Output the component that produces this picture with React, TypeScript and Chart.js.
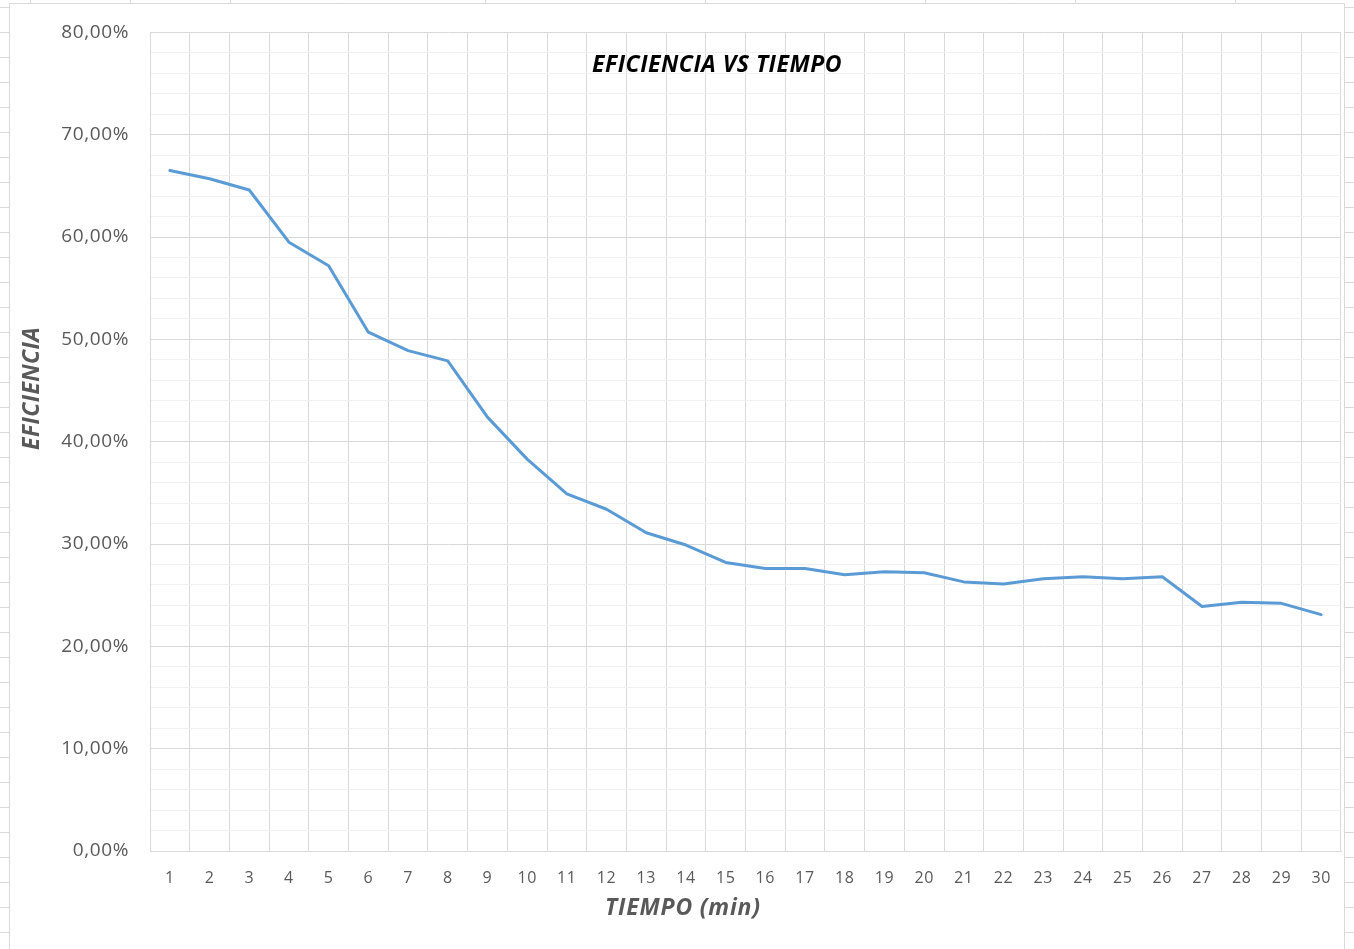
import React, { useEffect, useRef } from "react";
import { Chart, registerables } from "chart.js";

Chart.register(...registerables);

const categories: string[] = [
  "1", "2", "3", "4", "5", "6", "7", "8", "9", "10",
  "11", "12", "13", "14", "15", "16", "17", "18", "19", "20",
  "21", "22", "23", "24", "25", "26", "27", "28", "29", "30",
];

const eficiencia: number[] = [
  66.5, 65.7, 64.6, 59.5, 57.2, 50.7, 48.9, 47.9, 42.4, 38.3,
  34.9, 33.4, 31.1, 29.9, 28.2, 27.6, 27.6, 27.0, 27.3, 27.2,
  26.3, 26.1, 26.6, 26.8, 26.6, 26.8, 23.9, 24.3, 24.2, 23.1,
];

const yMin = 0;
const yMax = 80;
const yMinorStep = 2;
const yMajorStep = 10;

const chartTitle = "EFICIENCIA VS TIEMPO";
const xTitle = "TIEMPO (min)";
const yTitle = "EFICIENCIA";

const FONT = "'Open Sans', 'Liberation Sans', sans-serif";

const decorPlugin = {
  id: "decor",
  beforeDraw(chart: any) {
    const ctx = chart.ctx;
    ctx.save();
    ctx.fillStyle = "#ffffff";
    ctx.fillRect(0, 0, chart.width, chart.height);
    ctx.strokeStyle = "#d9d9d9";
    ctx.lineWidth = 1;
    // chart frame
    ctx.beginPath();
    ctx.moveTo(9.5, chart.height);
    ctx.lineTo(9.5, 3.5);
    ctx.lineTo(1344.5, 3.5);
    ctx.lineTo(1344.5, chart.height);
    ctx.stroke();
    // sheet cell lines peeking around the frame
    ctx.beginPath();
    [30, 130, 230, 485, 705, 925, 1075, 1235].forEach((x) => {
      ctx.moveTo(x + 0.5, 0);
      ctx.lineTo(x + 0.5, 3);
    });
    for (let y = 7; y < chart.height; y += 25) {
      ctx.moveTo(0, y + 0.5);
      ctx.lineTo(9, y + 0.5);
      ctx.moveTo(1345, y + 0.5);
      ctx.lineTo(chart.width, y + 0.5);
    }
    ctx.stroke();
    ctx.restore();
    // slightly wider glyph spacing for tick labels (Excel-like)
    ctx.letterSpacing = "0.6px";
  },
  afterDatasetsDraw(chart: any) {
    const ctx = chart.ctx;
    const a = chart.chartArea;
    ctx.save();
    ctx.textAlign = "center";
    ctx.textBaseline = "middle";
    // main title
    ctx.fillStyle = "#000000";
    ctx.letterSpacing = "0.5px";
    ctx.font = `italic bold 23px ${FONT}`;
    ctx.fillText(chartTitle, a.left + 567, a.top + 33);
    // x axis title
    ctx.fillStyle = "#595959";
    ctx.letterSpacing = "0.8px";
    ctx.font = `italic bold 23px ${FONT}`;
    ctx.fillText(xTitle, a.left + 533, a.bottom + 57);
    // y axis title
    ctx.letterSpacing = "0.4px";
    ctx.translate(a.left - 118, a.top + 356);
    ctx.rotate(-Math.PI / 2);
    ctx.fillText(yTitle, 0, 0);
    ctx.restore();
  },
  afterDraw(chart: any) {
    chart.ctx.letterSpacing = "0px";
  },
};

export default function App() {
  const canvasRef = useRef<HTMLCanvasElement | null>(null);

  useEffect(() => {
    if (!canvasRef.current) return;
    const chart = new Chart(canvasRef.current, {
      type: "line",
      data: {
        labels: categories,
        datasets: [
          {
            label: yTitle,
            data: eficiencia,
            borderColor: "#5B9BD5",
            backgroundColor: "#5B9BD5",
            borderWidth: 3,
            pointRadius: 0,
            pointHoverRadius: 0,
            tension: 0,
            fill: false,
            borderCapStyle: "round",
            borderJoinStyle: "round",
          },
        ],
      },
      options: {
        responsive: false,
        animation: false,
        layout: { padding: { top: 31, right: 13, bottom: 0, left: 0 } },
        plugins: {
          legend: { display: false },
          tooltip: { enabled: false },
          title: { display: false },
        },
        scales: {
          x: {
            type: "category",
            offset: true,
            grid: {
              offset: true,
              color: "#d9d9d9",
              lineWidth: 1,
              drawTicks: false,
            },
            border: { display: true, color: "#d9d9d9", width: 1 },
            ticks: {
              autoSkip: false,
              maxRotation: 0,
              minRotation: 0,
              padding: 18,
              color: "#595959",
              font: { family: FONT, size: 16 },
            },
            afterFit: (scale: any) => {
              scale.height = 98;
            },
          },
          y: {
            min: yMin,
            max: yMax,
            grid: {
              drawTicks: false,
              lineWidth: 1,
              color: (c: any) =>
                c.tick && c.tick.value % yMajorStep === 0 ? "#d9d9d9" : "#f0f0f0",
            },
            border: { display: true, color: "#d9d9d9", width: 1 },
            ticks: {
              stepSize: yMinorStep,
              autoSkip: false,
              padding: 21,
              color: "#595959",
              font: { family: FONT, size: 19 },
              callback: (v: any) =>
                Number(v) % yMajorStep === 0
                  ? Number(v).toFixed(2).replace(".", ",") + "%"
                  : "",
            },
            afterFit: (scale: any) => {
              scale.width = 150;
            },
          },
        },
      },
      plugins: [decorPlugin],
    } as any);
    return () => chart.destroy();
  }, []);

  return (
    <div style={{ position: "absolute", left: 0, top: 0, width: 1354, height: 949 }}>
      <canvas ref={canvasRef} width={1354} height={949} />
    </div>
  );
}
